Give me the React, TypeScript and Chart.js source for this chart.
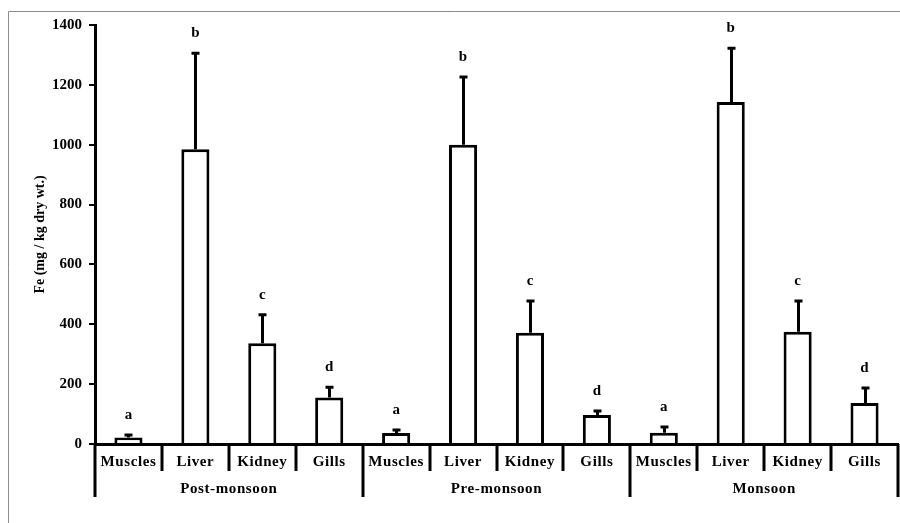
import React, { useEffect, useRef } from "react";
import { Chart, registerables } from "chart.js";

Chart.register(...registerables);

const tissues = ["Muscles", "Liver", "Kidney", "Gills"];
const seasons = ["Post-monsoon", "Pre-monsoon", "Monsoon"];
const categories = seasons.flatMap((s) => tissues.map((t) => `${s} ${t}`));
const tissueLabels = seasons.flatMap(() => tissues);
const means = [22, 985, 337, 155, 37, 1000, 372, 97, 38, 1143, 375, 137];
const sdUpper = [8, 321, 95, 35, 10, 226, 106, 13, 19, 179, 103, 50];
const letters = ["a", "b", "c", "d", "a", "b", "c", "d", "a", "b", "c", "d"];
const yTicks = [0, 200, 400, 600, 800, 1000, 1200, 1400];

const SERIF = "'Liberation Serif', 'Times New Roman', serif";

const decorPlugin = {
  id: "decor",
  beforeDraw(chart: any) {
    const ctx = chart.ctx;
    ctx.save();
    ctx.fillStyle = "#ffffff";
    ctx.fillRect(0, 0, chart.width, chart.height);
    ctx.strokeStyle = "#8c8c8c";
    ctx.lineWidth = 1;
    ctx.beginPath();
    ctx.moveTo(8.5, chart.height);
    ctx.lineTo(8.5, 11.5);
    ctx.lineTo(chart.width, 11.5);
    ctx.stroke();
    ctx.restore();
  },
  afterDatasetsDraw(chart: any) {
    const ctx = chart.ctx;
    const meta = chart.getDatasetMeta(0);
    const y = chart.scales.y;
    ctx.save();
    ctx.strokeStyle = "#000";
    ctx.fillStyle = "#000";
    ctx.lineWidth = 3;
    ctx.font = `bold 15px ${SERIF}`;
    ctx.textAlign = "center";
    ctx.textBaseline = "middle";
    meta.data.forEach((el: any, i: number) => {
      const top = y.getPixelForValue(means[i] + sdUpper[i]);
      const x = Math.round(el.x) + 0.5;
      ctx.beginPath();
      ctx.moveTo(x, el.y);
      ctx.lineTo(x, top);
      ctx.moveTo(x - 4, top);
      ctx.lineTo(x + 4, top);
      ctx.stroke();
      ctx.fillText(letters[i], el.x, top - 20);
    });
    ctx.restore();
  },
  afterDraw(chart: any) {
    const ctx = chart.ctx;
    const x = chart.scales.x;
    const area = chart.chartArea;
    const n = categories.length;
    const cell = (area.right - area.left) / n;
    ctx.save();
    ctx.strokeStyle = "#000";
    ctx.lineWidth = 3;
    ctx.beginPath();
    for (let i = 0; i <= n; i++) {
      const px = Math.round(area.left + i * cell);
      ctx.moveTo(px, area.bottom);
      ctx.lineTo(px, i % 4 === 0 ? area.bottom + 53 : area.bottom + 27);
    }
    ctx.stroke();
    ctx.fillStyle = "#000";
    ctx.font = `bold 15px ${SERIF}`;
    ctx.textAlign = "center";
    ctx.textBaseline = "middle";
    (ctx as any).letterSpacing = "0.6px";
    for (let i = 0; i < n; i++) {
      ctx.fillText(tissueLabels[i], x.getPixelForValue(i), area.bottom + 18);
    }
    seasons.forEach((s, g) => {
      const cx = (x.getPixelForValue(g * 4) + x.getPixelForValue(g * 4 + 3)) / 2;
      ctx.fillText(s, cx, area.bottom + 45);
    });
    (ctx as any).letterSpacing = "0px";
    ctx.restore();
  },
};

export default function App() {
  const ref = useRef<HTMLCanvasElement>(null);
  useEffect(() => {
    if (!ref.current) return;
    const chart = new Chart(ref.current, {
      type: "bar",
      data: {
        labels: categories,
        datasets: [
          {
            data: means,
            backgroundColor: "#ffffff",
            borderColor: "#000000",
            borderWidth: 3,
            barPercentage: 0.42,
            categoryPercentage: 1,
          },
        ],
      },
      options: {
        responsive: false,
        animation: false,
        layout: { padding: { top: 25, right: 2, left: 0, bottom: 0 } },
        plugins: { legend: { display: false }, tooltip: { enabled: false } },
        scales: {
          x: {
            grid: { display: false, drawTicks: false },
            ticks: { display: false },
            border: { color: "#000", width: 3 },
            afterFit: (s: any) => {
              s.height = 79;
            },
          },
          y: {
            min: 0,
            max: 1400,
            afterBuildTicks: (s: any) => {
              s.ticks = yTicks.map((v) => ({ value: v }));
            },
            grid: { drawOnChartArea: false, tickLength: 6, color: "#000", lineWidth: 2 },
            border: { color: "#000", width: 3 },
            ticks: {
              color: "#000",
              padding: 7,
              font: { family: SERIF, size: 15, weight: "bold" },
              callback: (v: any) => String(v),
            },
            title: {
              display: true,
              text: "Fe (mg / kg dry wt.)",
              color: "#000",
              font: { family: SERIF, size: 14, weight: "bold" },
              padding: { top: 32, bottom: 0 },
            },
            afterFit: (s: any) => {
              s.width = 95;
            },
          },
        },
      },
      plugins: [decorPlugin],
    } as any);
    return () => chart.destroy();
  }, []);
  return (
    <div style={{ position: "absolute", left: 0, top: 0, width: 900, height: 523 }}>
      <canvas ref={ref} width={900} height={523} />
    </div>
  );
}
